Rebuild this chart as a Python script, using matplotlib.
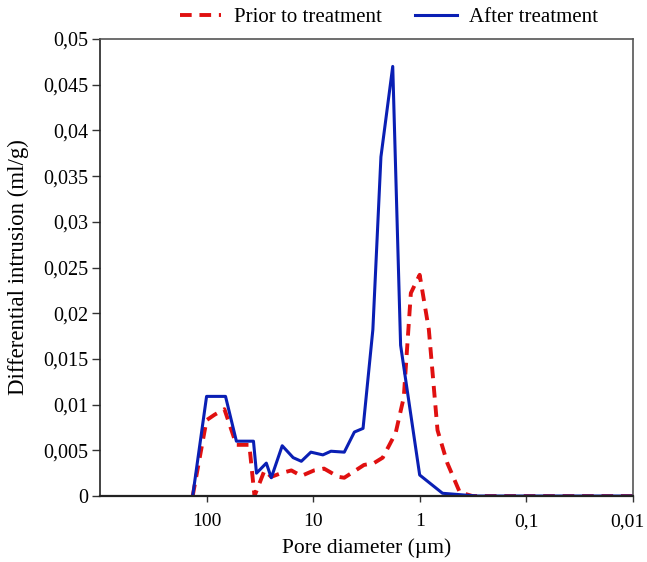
import numpy as np
import matplotlib.pyplot as plt
import matplotlib.transforms as mtransforms
from matplotlib.ticker import FixedLocator, FuncFormatter

plt.rcParams['font.family'] = ['Liberation Serif', 'DejaVu Serif']

# Prior to treatment (red dashed)
d_prior = [135, 100, 84, 68, 52.5, 39.7, 35.5, 28.6, 24.7, 20, 16, 12.9, 9.8, 7.9, 5.8, 5.1,
           3.33, 2.69, 2.22, 1.68, 1.41, 1.21, 1.0, 0.82, 0.68, 0.55, 0.42, 0.32, 0.1, 0.01]
v_prior = [0, 0.0083, 0.0089, 0.0095, 0.0056, 0.0056, 0, 0.0028, 0.0021, 0.0025, 0.0028, 0.0022,
           0.0028, 0.003, 0.0021, 0.002, 0.0034, 0.0036, 0.0042, 0.0069, 0.0108, 0.0222, 0.0242,
           0.0182, 0.0072, 0.0036, 0.0004, 0, 0, 0]

# After treatment (blue solid)
d_after = [135, 100, 66.4, 52.5, 36.3, 34, 27.5, 24.7, 19.5, 15.4, 12.9, 10.5, 8.1, 6.8, 5.1,
           4.1, 3.4, 2.75, 2.31, 1.79, 1.51, 1.0, 0.61, 0.29, 0.1, 0.01]
v_after = [0, 0.0109, 0.0109, 0.006, 0.006, 0.0025, 0.0036, 0.002, 0.0055, 0.0042, 0.0038,
           0.0048, 0.0045, 0.0049, 0.0048, 0.007, 0.0074, 0.0182, 0.0371, 0.047, 0.0165, 0.0023,
           0.0003, 0, 0, 0]

x_ticks = [100, 10, 1, 0.1, 0.01]
x_labels = ['100', '10', '1', '0,1', '0,01']
y_ticks = np.arange(0, 0.0501, 0.005)

fig = plt.figure(figsize=(6.47, 5.62), dpi=100)
ax = fig.add_axes([0.1546, 0.1174, 0.8234, 0.8132])

ax.plot(d_prior, v_prior, color='#e01010', linestyle=(0, (3, 2)), linewidth=2.8,
        label='Prior to treatment')
ax.plot(d_after, v_after, color='#0a1fb4', linewidth=2.2, label='After treatment')

ax.set_xscale('log')
ax.set_xlim(1000, 0.01)
ax.set_ylim(0, 0.05)
ax.xaxis.set_major_locator(FixedLocator(x_ticks))
ax.xaxis.set_minor_locator(FixedLocator([]))
ax.set_xticklabels(x_labels)
ax.set_yticks(y_ticks)
ax.yaxis.set_major_formatter(FuncFormatter(lambda v, p: '0' if v < 1e-9 else ('%g' % round(v, 4)).replace('.', ',')))

ax.tick_params(width=1, colors='#333333', labelcolor='black')
ax.tick_params(axis='y', length=5.5, pad=3, labelsize=14.5)
ax.tick_params(axis='x', length=4, pad=8, labelsize=14)
for s in ax.spines.values():
    s.set_color('#555555')
    s.set_linewidth(1.2)
ax.spines['bottom'].set_color('#222222')
ax.spines['bottom'].set_linewidth(1.6)
ax.spines['left'].set_color('#222222')

# last tick label sits at the figure edge, nudge it a bit to the left
last = ax.get_xticklabels()[-1]
last.set_transform(last.get_transform() + mtransforms.ScaledTranslation(-4 / 72, 0, fig.dpi_scale_trans))

ax.set_xlabel('Pore diameter (µm)', fontsize=15.5, labelpad=6)
ax.set_ylabel('Differential intrusion (ml/g)', fontsize=16.5, labelpad=10)

ax.legend(loc='center', bbox_to_anchor=(0.542, 1.048), ncol=2, frameon=False,
          fontsize=15, handlelength=2.0, handletextpad=0.6, columnspacing=1.6, borderaxespad=0)

fig.savefig('out.png', dpi=100)
